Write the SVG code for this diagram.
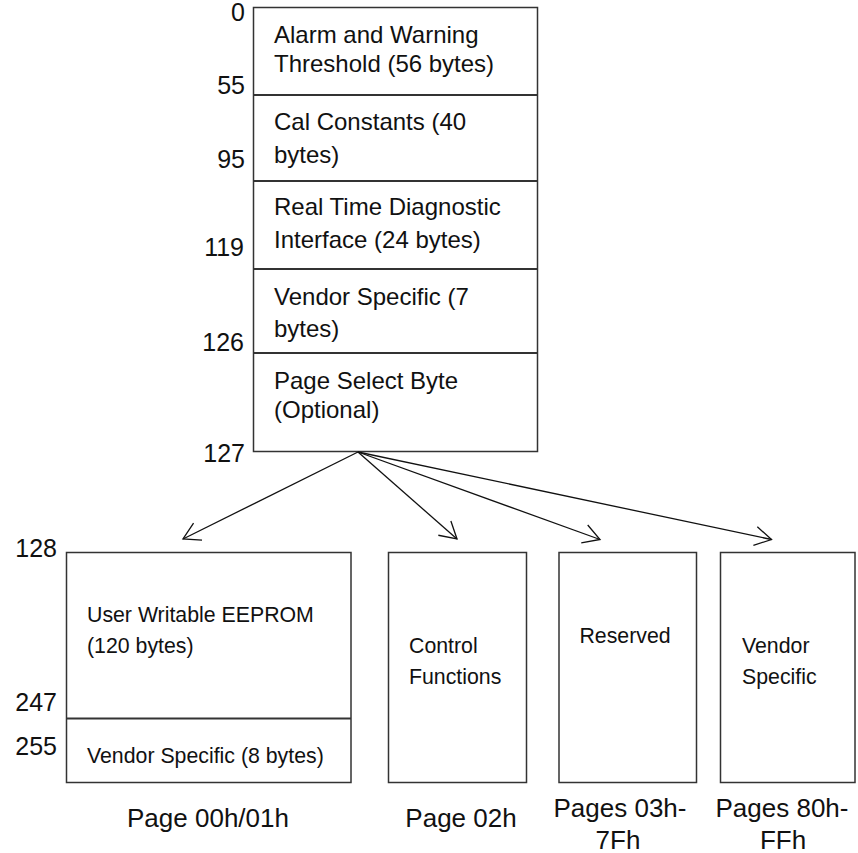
<svg xmlns="http://www.w3.org/2000/svg" width="858" height="853" viewBox="0 0 858 853">
<style>
text{font-family:"Liberation Sans",Arial,sans-serif;fill:#111}
.big{font-size:24px}
.num{font-size:25px;text-anchor:end}
.sm{font-size:21.3px}
.cap{font-size:26px;text-anchor:middle}
.box{fill:#fff;stroke:#333;stroke-width:1.5}
.div{stroke:#333;stroke-width:2}
.con{stroke:#111;stroke-width:1.3;fill:none;marker-end:url(#ah)}
</style>
<defs>
<marker id="ah" markerUnits="userSpaceOnUse" orient="auto" markerWidth="40" markerHeight="40" viewBox="-20 -20 40 40" refX="0" refY="0" overflow="visible">
<path d="M-16.5,-9.5 L0,0 L-16.5,9.5" fill="none" stroke="#111" stroke-width="1.3"/>
</marker>
</defs>
<g id="top-memory">
<rect class="box" x="253.5" y="7.5" width="284" height="444"/>
<line class="div" x1="253.5" y1="95" x2="537.5" y2="95"/>
<line class="div" x1="253.5" y1="181" x2="537.5" y2="181"/>
<line class="div" x1="253.5" y1="269" x2="537.5" y2="269"/>
<line class="div" x1="253.5" y1="353" x2="537.5" y2="353"/>
</g>
<g id="sec-alarm"><text class="big" x="274" y="43">Alarm and Warning</text><text class="big" x="274" y="72">Threshold (56 bytes)</text></g>
<g id="sec-cal"><text class="big" x="274" y="130">Cal Constants (40</text><text class="big" x="274" y="163">bytes)</text></g>
<g id="sec-rtd"><text class="big" x="274" y="215">Real Time Diagnostic</text><text class="big" x="274" y="248">Interface (24 bytes)</text></g>
<g id="sec-vendor7"><text class="big" x="274" y="305">Vendor Specific (7</text><text class="big" x="274" y="337">bytes)</text></g>
<g id="sec-pagesel"><text class="big" x="274" y="389">Page Select Byte</text><text class="big" x="274" y="418">(Optional)</text></g>
<g id="top-offsets">
<text class="num" x="245" y="21">0</text>
<text class="num" x="245" y="94">55</text>
<text class="num" x="245" y="168">95</text>
<text class="num" x="244" y="256">119</text>
<text class="num" x="244" y="351">126</text>
<text class="num" x="245" y="462">127</text>
</g>
<g id="page00">
<rect class="box" x="66.5" y="552.5" width="284.5" height="230"/>
<line class="div" x1="66.5" y1="718.5" x2="351" y2="718.5"/>
<text class="sm" x="87" y="622">User Writable EEPROM</text>
<text class="sm" x="87" y="653">(120 bytes)</text>
<text class="sm" x="87" y="763">Vendor Specific (8 bytes)</text>
<text class="num" x="57" y="557">128</text>
<text class="num" x="57" y="711">247</text>
<text class="num" x="57" y="755">255</text>
<text class="cap" x="208" y="827">Page 00h/01h</text>
</g>
<g id="page02">
<rect class="box" x="388.5" y="552.5" width="138" height="230"/>
<text class="sm" x="409" y="653">Control</text>
<text class="sm" x="409" y="684">Functions</text>
<text class="cap" x="461" y="827">Page 02h</text>
</g>
<g id="page03">
<rect class="box" x="559" y="552.5" width="137.5" height="230"/>
<text class="sm" x="625" y="643" text-anchor="middle">Reserved</text>
<text class="cap" x="620" y="817">Pages 03h-</text>
<text class="cap" x="618" y="849">7Fh</text>
</g>
<g id="page80">
<rect class="box" x="720.5" y="552.5" width="134.5" height="230"/>
<text class="sm" x="742" y="653">Vendor</text>
<text class="sm" x="742" y="684">Specific</text>
<text class="cap" x="782" y="817">Pages 80h-</text>
<text class="cap" x="783" y="849">FFh</text>
</g>
<g id="connectors">
<line class="con" x1="358" y1="452" x2="183" y2="539"/>
<line class="con" x1="358" y1="452" x2="457" y2="539"/>
<line class="con" x1="358" y1="452" x2="600" y2="539.5"/>
<line class="con" x1="358" y1="452" x2="771.5" y2="539.5"/>
</g>
</svg>
